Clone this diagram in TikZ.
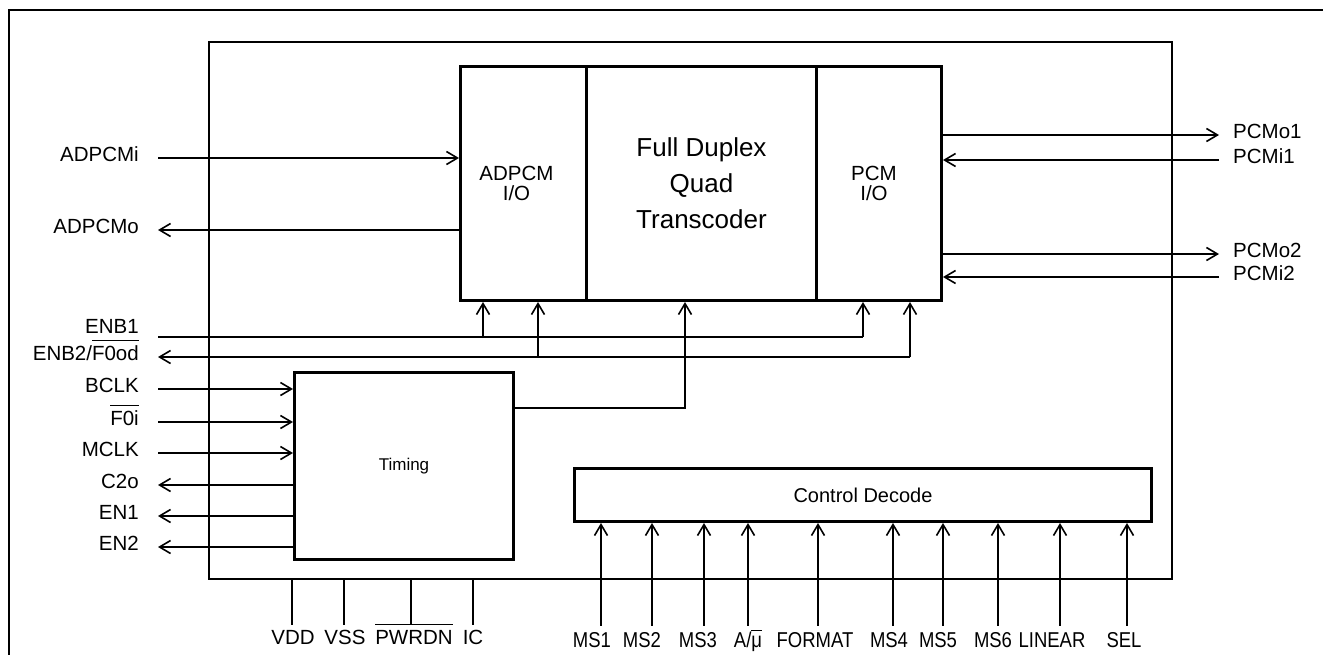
\documentclass[tikz,border=0pt]{standalone}
\usepackage{fontspec}
\setmainfont{Liberation Sans}
\newfontfamily\narrowfont[FakeStretch=0.86]{Liberation Sans}
\usetikzlibrary{arrows.meta}
\newcommand\ovl[1]{\setbox0\hbox{#1}\rlap{\rule[\dimexpr\ht0+4.5pt\relax]{\wd0}{1.6pt}}\box0}
\begin{document}
\begin{tikzpicture}[x=1pt,y=-1pt,
  lbl/.style={inner sep=0pt, text height=0.72em, text depth=0pt, font=\fontsize{20.5pt}{20.5pt}\selectfont},
  clbl/.style={inner sep=0pt, text height=0.72em, text depth=0pt, font=\narrowfont\fontsize{21.5pt}{21.5pt}\selectfont},
  blk/.style={draw, line width=3pt, inner sep=0pt, anchor=north west},
  btxt/.style={inner sep=0pt, align=center},
  wire/.style={line width=1.8pt},
  arr/.style={wire, -{Straight Barb[length=11pt,width=13pt,line width=1.6pt]}},
]
\useasboundingbox (0,0) rectangle (1325,654);
% outer frame
\draw[line width=2pt] (9,660) -- (9,10) -- (1323,10);
% chip outline
\node[draw, line width=2pt, inner sep=0pt, anchor=north west, minimum width=963pt, minimum height=537pt] (chip) at (208,41) {};
% main blocks
\node[blk, minimum width=126pt, minimum height=234pt] (adpcm) at (459,65) {};
\node[blk, minimum width=230pt, minimum height=234pt] (trans) at (585,65) {};
\node[blk, minimum width=125pt, minimum height=234pt] (pcm) at (815,65) {};
\node[blk, minimum width=219pt, minimum height=187pt] (timing) at (293,371) {};
\node[blk, minimum width=577pt, minimum height=53pt] (ctrl) at (573,467) {};
\node[btxt, font=\fontsize{20.5pt}{20pt}\selectfont] (tadpcm) at ([xshift=-7pt]adpcm.center) {ADPCM\\I/O};
\node[btxt, font=\fontsize{26pt}{36pt}\selectfont] (ttrans) at (trans.center) {Full Duplex\\Quad\\Transcoder};
\node[btxt, font=\fontsize{20.5pt}{20pt}\selectfont] (tpcm) at ([xshift=-5pt]pcm.center) {PCM\\I/O};
\node[btxt, font=\fontsize{17pt}{17pt}\selectfont] (ttiming) at (timing.center) {Timing};
\node[btxt, font=\fontsize{20pt}{20pt}\selectfont] (tctrl) at (ctrl.center) {Control Decode};
% left labels
\node[lbl, anchor=east] (lADPCMi) at (139,158) {ADPCMi};
\node[lbl, anchor=east] (lADPCMo) at (139,230) {ADPCMo};
\node[lbl, anchor=east] (lENB1) at (139,330) {ENB1};
\node[lbl, anchor=east] (lENB2) at (139,357) {ENB2/\ovl{F0od}};
\node[lbl, anchor=east] (lBCLK) at (139,389) {BCLK};
\node[lbl, anchor=east] (lF0i) at (139,422) {\ovl{F0i}};
\node[lbl, anchor=east] (lMCLK) at (139,453) {MCLK};
\node[lbl, anchor=east] (lC2o) at (139,485) {C2o};
\node[lbl, anchor=east] (lEN1) at (139,516) {EN1};
\node[lbl, anchor=east] (lEN2) at (139,547) {EN2};
% right labels
\node[lbl, anchor=west] (lPCMo1) at (1233,135) {PCMo1};
\node[lbl, anchor=west] (lPCMi1) at (1233,160) {PCMi1};
\node[lbl, anchor=west] (lPCMo2) at (1233,254) {PCMo2};
\node[lbl, anchor=west] (lPCMi2) at (1233,277) {PCMi2};
% bottom labels
\node[lbl, anchor=base] (pVDD) at (293,644) {VDD};
\node[lbl, anchor=base] (pVSS) at (345,644) {VSS};
\node[lbl, anchor=base] (pPWRDN) at (414,644) {\ovl{PWRDN}};
\node[lbl, anchor=base] (pIC) at (473,644) {IC};
\node[clbl, anchor=base] (pMS1) at (592,647) {MS1};
\node[clbl, anchor=base] (pMS2) at (642,647) {MS2};
\node[clbl, anchor=base] (pMS3) at (698,647) {MS3};
\node[clbl, anchor=base] (pAmu) at (748,647) {A/\ovl{μ}};
\node[clbl, anchor=base] (pFORMAT) at (815,647) {FORMAT};
\node[clbl, anchor=base] (pMS4) at (889,647) {MS4};
\node[clbl, anchor=base] (pMS5) at (938,647) {MS5};
\node[clbl, anchor=base] (pMS6) at (993,647) {MS6};
\node[clbl, anchor=base] (pLINEAR) at (1052,647) {LINEAR};
\node[clbl, anchor=base] (pSEL) at (1124,647) {SEL};
% ADPCM connectors
\draw[arr] ([xshift=19pt]lADPCMi.east) -- (lADPCMi.east -| adpcm.west);
\draw[arr] (lADPCMo.east -| adpcm.west) -- ([xshift=19pt]lADPCMo.east);
% PCM connectors
\draw[arr] (lPCMo1.west -| pcm.east) -- ([xshift=-14pt]lPCMo1.west);
\draw[arr] ([xshift=-14pt]lPCMi1.west) -- (lPCMi1.west -| pcm.east);
\draw[arr] (lPCMo2.west -| pcm.east) -- ([xshift=-14pt]lPCMo2.west);
\draw[arr] ([xshift=-14pt]lPCMi2.west) -- (lPCMi2.west -| pcm.east);
% ENB lines
\coordinate (j1) at (483,337);
\coordinate (j2) at (863,337);
\coordinate (j3) at (538,357);
\coordinate (j4) at (910,357);
\draw[wire] ([xshift=19pt]lENB1.east |- j2) -- (j2);
\draw[arr] ([yshift=-1pt]j1) -- (j1 |- adpcm.south);
\draw[arr] (j2) -- (j2 |- pcm.south);
\draw[arr] (j4) -- ([xshift=19pt]lENB2.east);
\draw[arr] (j3) -- (j3 |- adpcm.south);
\draw[arr] (j4) -- (j4 |- pcm.south);
% timing
\draw[arr] ([xshift=19pt]lBCLK.east) -- (lBCLK.east -| timing.west);
\draw[arr] ([xshift=19pt]lF0i.east) -- (lF0i.east -| timing.west);
\draw[arr] ([xshift=19pt]lMCLK.east) -- (lMCLK.east -| timing.west);
\draw[arr] (lC2o.east -| timing.west) -- ([xshift=19pt]lC2o.east);
\draw[arr] (lEN1.east -| timing.west) -- ([xshift=19pt]lEN1.east);
\draw[arr] (lEN2.east -| timing.west) -- ([xshift=19pt]lEN2.east);
\coordinate (tk) at (685,408);
\draw[arr] (tk -| timing.east) -- (tk) -- (tk |- trans.south);
% bottom pins
\foreach \p/\d in {pVDD/-1,pVSS/-1,pPWRDN/-3,pIC/0}
  \draw[wire] ([xshift=\d pt]\p.north |- chip.south) -- ([xshift=\d pt, yshift=12pt]\p.north);
\foreach \p/\d in {pMS1/9,pMS2/10,pMS3/6,pAmu/0,pFORMAT/3,pMS4/4,pMS5/5,pMS6/5,pLINEAR/8,pSEL/3}
  \draw[arr] ([xshift=\d pt, yshift=14pt]\p.north) -- ([xshift=\d pt]\p.north |- ctrl.south);
\end{tikzpicture}
\end{document}
